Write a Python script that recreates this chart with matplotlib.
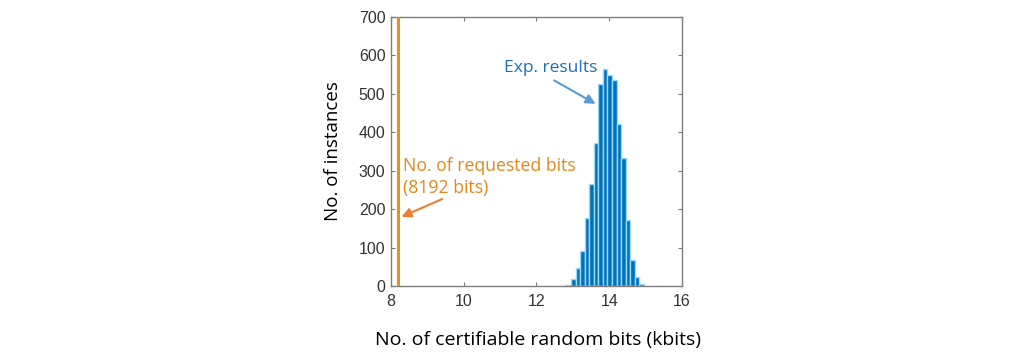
import numpy as np
import matplotlib.pyplot as plt

# histogram data
bin_start = 12.70
bin_width = 0.125
counts = [1, 3, 18, 47, 91, 178, 266, 373, 525, 564, 548, 535, 420, 332, 172, 68, 23, 5, 1]
requested_kbits = 8.192

xticks = [8, 10, 12, 14, 16]
yticks = [0, 100, 200, 300, 400, 500, 600, 700]

edges = bin_start + bin_width * np.arange(len(counts) + 1)

fig = plt.figure(figsize=(10.24, 3.6), dpi=100)
ax = fig.add_axes([0.3818, 0.2055, 0.2842, 0.7481])

# bars
ax.bar(edges[:-1], counts, width=bin_width, align='edge',
       color='#0072BD', edgecolor='#9ad9f5', linewidth=1.0, zorder=2)

# requested bits line
ax.axvline(requested_kbits, color='#E8921E', linewidth=2.2, zorder=3)

ax.set_xlim(8, 16)
ax.set_ylim(0, 700)
ax.set_xticks(xticks)
ax.set_yticks(yticks)
ax.tick_params(direction='in', length=3, width=0.8, colors='#7a7a7a',
               top=True, right=True, labelsize=11.5, labelcolor='#333333')
ax.tick_params(axis='x', pad=6)
ax.tick_params(axis='y', pad=4)
for lbl in ax.get_xticklabels() + ax.get_yticklabels():
    lbl.set_fontfamily('Liberation Sans')
for s in ax.spines.values():
    s.set_color('#7f7f7f')
    s.set_linewidth(1.0)

lab_font = 'Open Sans'
fig.text(0.525, 0.055, 'No. of certifiable random bits (kbits)', ha='center',
         va='center', fontsize=14, family=lab_font, color='black')
fig.text(0.325, 0.58, 'No. of instances', ha='center', va='center',
         rotation=90, fontsize=13.5, family=lab_font, color='black')

# annotations
ax.text(8.33, 335, 'No. of requested bits\n(8192 bits)', ha='left', va='top',
        fontsize=12.7, family=lab_font, color='#E2881A', linespacing=1.25)
ax.annotate('', xy=(8.22, 177), xytext=(9.48, 229),
            arrowprops=dict(arrowstyle='-|>', color='#ED7D31', lw=1.5,
                            mutation_scale=14))

ax.text(11.10, 567, 'Exp. results', ha='left', va='center',
        fontsize=12.5, family=lab_font, color='#1F6EB8')
ax.annotate('', xy=(13.69, 470), xytext=(12.42, 538),
            arrowprops=dict(arrowstyle='-|>', color='#5B9BD5', lw=1.5,
                            mutation_scale=14))

fig.savefig('out.png', dpi=100)
